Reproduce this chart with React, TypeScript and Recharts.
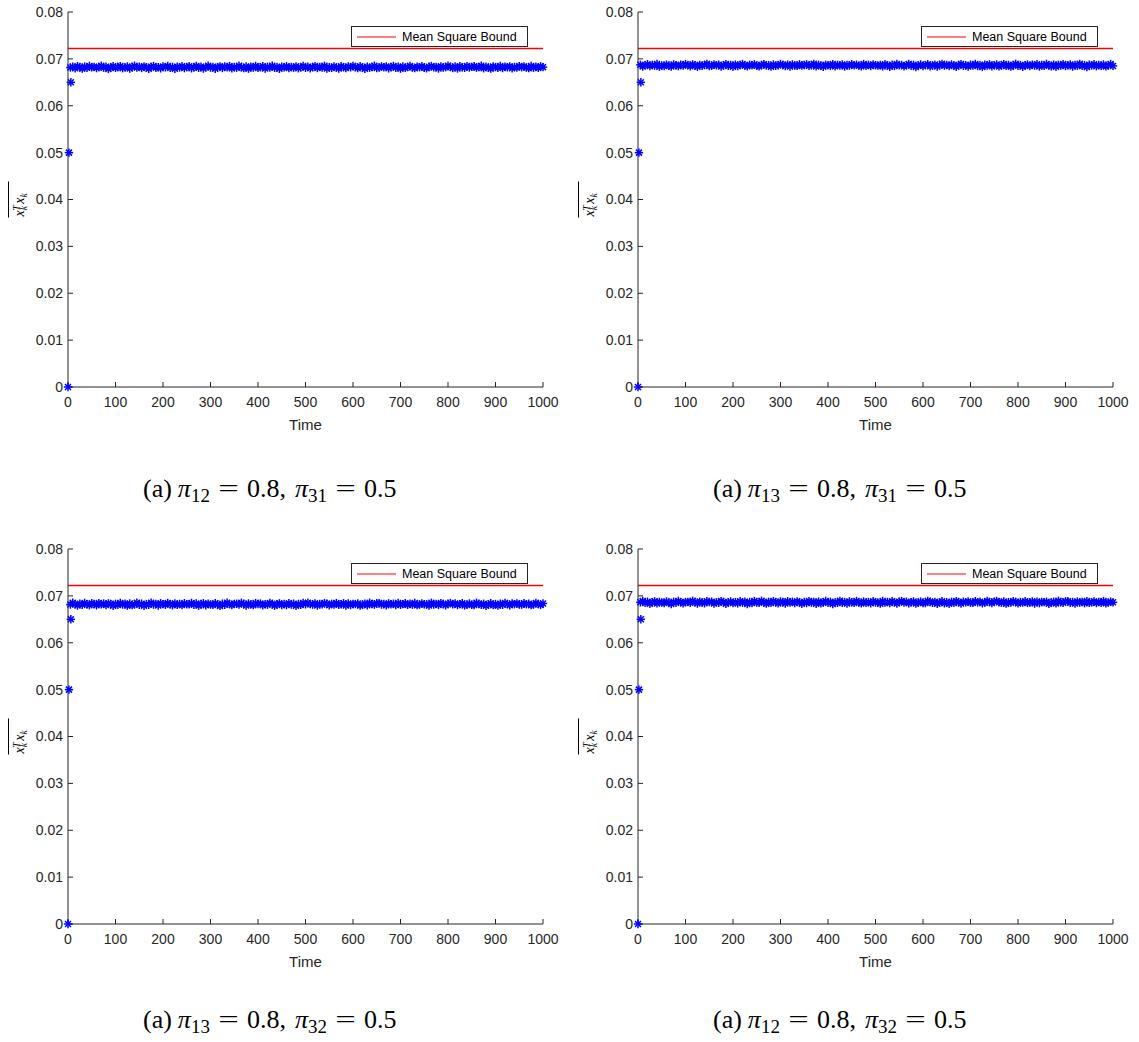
import React from 'react';
import { ComposedChart, Scatter, Line, XAxis, YAxis, Legend } from 'recharts';

const xTicks = [0, 100, 200, 300, 400, 500, 600, 700, 800, 900, 1000];
const yTicks = [0, 0.01, 0.02, 0.03, 0.04, 0.05, 0.06, 0.07, 0.08];
const boundValue = 0.0722;
const initTimes = [0, 2, 6];
const initValues = [0, 0.05, 0.065];
const bandTimes = Array.from({ length: 200 }, (_, i) => 5 + 5 * i);

const bandTL = [
  0.06816, 0.06832, 0.068, 0.06844, 0.06826, 0.06792, 0.06836, 0.0681, 0.0685, 0.06822,
  0.0683, 0.06804, 0.06824, 0.06852, 0.06812, 0.06834, 0.06786, 0.0682, 0.06842, 0.06808,
  0.06828, 0.06846, 0.06802, 0.06818, 0.06838, 0.06796, 0.06826, 0.06854, 0.06814, 0.06832,
  0.06806, 0.0684, 0.06822, 0.0679, 0.0683, 0.06848, 0.06812, 0.06824, 0.06798, 0.06836,
  0.0682, 0.0685, 0.06808, 0.06828, 0.06788, 0.06834, 0.06816, 0.06844, 0.06804, 0.06826,
  0.06842, 0.068, 0.06822, 0.06848, 0.0681, 0.06832, 0.06794, 0.06824, 0.06854, 0.06814,
  0.0683, 0.0679, 0.06826, 0.0684, 0.06806, 0.06836, 0.06818, 0.06846, 0.06798, 0.06828,
  0.06812, 0.06852, 0.0682, 0.06802, 0.06838, 0.06792, 0.06832, 0.06816, 0.06848, 0.06808,
  0.06824, 0.06842, 0.06796, 0.0683, 0.06814, 0.06854, 0.0681, 0.06826, 0.06788, 0.06834,
  0.06818, 0.06844, 0.06804, 0.06828, 0.06812, 0.0684, 0.068, 0.06822, 0.0685, 0.0681,
  0.06834, 0.06798, 0.06826, 0.06846, 0.06806, 0.0683, 0.06816, 0.06852, 0.06794, 0.06822,
  0.06808, 0.06838, 0.06814, 0.06796, 0.06842, 0.06824, 0.06804, 0.06836, 0.0682, 0.06848,
  0.06826, 0.06802, 0.06844, 0.06818, 0.0679, 0.06832, 0.06812, 0.06828, 0.06854, 0.06806,
  0.06814, 0.0684, 0.06822, 0.06836, 0.06798, 0.06826, 0.06848, 0.0681, 0.06832, 0.06792,
  0.06838, 0.06808, 0.06828, 0.0685, 0.06816, 0.06802, 0.06834, 0.06822, 0.06844, 0.06812,
  0.068, 0.06832, 0.06846, 0.06818, 0.06826, 0.06794, 0.0684, 0.06814, 0.06824, 0.06852,
  0.06828, 0.06806, 0.06838, 0.06796, 0.06842, 0.0682, 0.0681, 0.06846, 0.06816, 0.0683,
  0.06844, 0.06812, 0.06824, 0.06854, 0.068, 0.06834, 0.06818, 0.06792, 0.06836, 0.06826,
  0.0681, 0.06848, 0.06804, 0.06832, 0.0682, 0.0684, 0.06798, 0.06828, 0.06814, 0.06846,
  0.06822, 0.06836, 0.06816, 0.06802, 0.0685, 0.06812, 0.06832, 0.06808, 0.06842, 0.06824,
];

const bandTR = [
  0.06874, 0.06838, 0.06866, 0.06886, 0.06846, 0.0687, 0.06856, 0.06892, 0.06834, 0.06862,
  0.06848, 0.06878, 0.06854, 0.06836, 0.06882, 0.06864, 0.06844, 0.06876, 0.0686, 0.06888,
  0.06866, 0.06842, 0.06884, 0.06858, 0.0683, 0.06872, 0.06852, 0.06868, 0.06894, 0.06846,
  0.06854, 0.0688, 0.06862, 0.06876, 0.06838, 0.06866, 0.06888, 0.0685, 0.06872, 0.06832,
  0.06878, 0.06848, 0.06868, 0.0689, 0.06856, 0.06842, 0.06874, 0.06862, 0.06884, 0.06852,
  0.0684, 0.06872, 0.06886, 0.06858, 0.06866, 0.06834, 0.0688, 0.06854, 0.06864, 0.06892,
  0.06868, 0.06846, 0.06878, 0.06836, 0.06882, 0.0686, 0.0685, 0.06886, 0.06856, 0.0687,
  0.06884, 0.06852, 0.06864, 0.06894, 0.0684, 0.06874, 0.06858, 0.06832, 0.06876, 0.06866,
  0.0685, 0.06888, 0.06844, 0.06872, 0.0686, 0.0688, 0.06838, 0.06868, 0.06854, 0.06886,
  0.06862, 0.06876, 0.06856, 0.06842, 0.0689, 0.06852, 0.06872, 0.06848, 0.06882, 0.06864,
  0.06856, 0.06872, 0.0684, 0.06884, 0.06866, 0.06832, 0.06876, 0.0685, 0.0689, 0.06862,
  0.0687, 0.06844, 0.06864, 0.06892, 0.06852, 0.06874, 0.06826, 0.0686, 0.06882, 0.06848,
  0.06868, 0.06886, 0.06842, 0.06858, 0.06878, 0.06836, 0.06866, 0.06894, 0.06854, 0.06872,
  0.06846, 0.0688, 0.06862, 0.0683, 0.0687, 0.06888, 0.06852, 0.06864, 0.06838, 0.06876,
  0.0686, 0.0689, 0.06848, 0.06868, 0.06828, 0.06874, 0.06856, 0.06884, 0.06844, 0.06866,
  0.06882, 0.0684, 0.06862, 0.06888, 0.0685, 0.06872, 0.06834, 0.06864, 0.06894, 0.06854,
  0.0687, 0.0683, 0.06866, 0.0688, 0.06846, 0.06876, 0.06858, 0.06886, 0.06838, 0.06868,
  0.06852, 0.06892, 0.0686, 0.06842, 0.06878, 0.06832, 0.06872, 0.06856, 0.06888, 0.06848,
  0.06864, 0.06882, 0.06836, 0.0687, 0.06854, 0.06894, 0.0685, 0.06866, 0.06828, 0.06874,
  0.06858, 0.06884, 0.06844, 0.06868, 0.06852, 0.0688, 0.0684, 0.06862, 0.0689, 0.0685,
];

const bandBL = [
  0.06814, 0.06854, 0.06824, 0.06794, 0.06832, 0.0681, 0.06848, 0.06822, 0.068, 0.06842,
  0.06828, 0.06798, 0.06846, 0.06818, 0.06836, 0.06806, 0.0684, 0.06826, 0.0679, 0.0683,
  0.06808, 0.06848, 0.06816, 0.06832, 0.06792, 0.06838, 0.06802, 0.0682, 0.06852, 0.06812,
  0.06834, 0.06788, 0.06826, 0.0681, 0.06854, 0.06814, 0.0683, 0.06796, 0.06842, 0.06824,
  0.0681, 0.0685, 0.06822, 0.068, 0.0684, 0.06812, 0.06828, 0.06804, 0.06844, 0.06818,
  0.06822, 0.0685, 0.0681, 0.06836, 0.06792, 0.06826, 0.06844, 0.068, 0.06832, 0.06816,
  0.06808, 0.06842, 0.0682, 0.06786, 0.06834, 0.06812, 0.06852, 0.06824, 0.06804, 0.0683,
  0.06832, 0.06814, 0.06854, 0.06826, 0.06796, 0.06838, 0.06818, 0.06802, 0.06846, 0.06828,
  0.06836, 0.06798, 0.06824, 0.06812, 0.06848, 0.0683, 0.0679, 0.06822, 0.0684, 0.06806,
  0.06826, 0.06804, 0.06844, 0.06816, 0.06834, 0.06788, 0.06828, 0.06808, 0.0685, 0.0682,
  0.06852, 0.06824, 0.06814, 0.0684, 0.06794, 0.06826, 0.06818, 0.06846, 0.06832, 0.068,
  0.0683, 0.06816, 0.06846, 0.0681, 0.0682, 0.06842, 0.06796, 0.06838, 0.06806, 0.06828,
  0.06826, 0.06836, 0.06792, 0.06818, 0.06834, 0.068, 0.06854, 0.06824, 0.06812, 0.06844,
  0.06846, 0.06814, 0.06828, 0.06798, 0.0684, 0.0682, 0.06832, 0.06804, 0.06848, 0.0681,
  0.06824, 0.06842, 0.06808, 0.06832, 0.06812, 0.0685, 0.06802, 0.06816, 0.06836, 0.06822,
  0.06822, 0.06794, 0.06852, 0.06816, 0.0683, 0.06806, 0.06846, 0.06826, 0.06798, 0.06834,
  0.06848, 0.0682, 0.06836, 0.06804, 0.06824, 0.06842, 0.06796, 0.06814, 0.06838, 0.06808,
  0.06806, 0.06854, 0.06828, 0.06812, 0.06832, 0.0679, 0.06818, 0.06844, 0.06802, 0.06826,
  0.06792, 0.06832, 0.0681, 0.06848, 0.06826, 0.06798, 0.06836, 0.06822, 0.0684, 0.06814,
  0.06812, 0.06844, 0.06822, 0.06834, 0.06802, 0.06816, 0.0685, 0.06828, 0.06808, 0.06838,
];

const bandBR = [
  0.06862, 0.0689, 0.0685, 0.06876, 0.06832, 0.06866, 0.06884, 0.0684, 0.06872, 0.06856,
  0.06848, 0.06882, 0.0686, 0.06826, 0.06874, 0.06852, 0.06892, 0.06864, 0.06844, 0.0687,
  0.06872, 0.06854, 0.06894, 0.06866, 0.06836, 0.06878, 0.06858, 0.06842, 0.06886, 0.06868,
  0.06876, 0.06838, 0.06864, 0.06852, 0.06888, 0.0687, 0.0683, 0.06862, 0.0688, 0.06846,
  0.06866, 0.06844, 0.06884, 0.06856, 0.06874, 0.06828, 0.06868, 0.06848, 0.0689, 0.0686,
  0.06854, 0.06894, 0.06864, 0.06834, 0.06872, 0.0685, 0.06888, 0.06862, 0.0684, 0.06882,
  0.06868, 0.06838, 0.06886, 0.06858, 0.06876, 0.06846, 0.0688, 0.06866, 0.0683, 0.0687,
  0.06848, 0.06888, 0.06856, 0.06872, 0.06832, 0.06878, 0.06842, 0.0686, 0.06892, 0.06852,
  0.06874, 0.06828, 0.06866, 0.0685, 0.06894, 0.06854, 0.0687, 0.06836, 0.06882, 0.06864,
  0.0685, 0.0689, 0.06862, 0.0684, 0.0688, 0.06852, 0.06868, 0.06844, 0.06884, 0.06858,
  0.06862, 0.06834, 0.06892, 0.06856, 0.0687, 0.06846, 0.06886, 0.06866, 0.06838, 0.06874,
  0.06888, 0.0686, 0.06876, 0.06844, 0.06864, 0.06882, 0.06836, 0.06854, 0.06878, 0.06848,
  0.06846, 0.06894, 0.06868, 0.06852, 0.06872, 0.0683, 0.06858, 0.06884, 0.06842, 0.06866,
  0.06832, 0.06872, 0.0685, 0.06888, 0.06866, 0.06838, 0.06876, 0.06862, 0.0688, 0.06854,
  0.06852, 0.06884, 0.06862, 0.06874, 0.06842, 0.06856, 0.0689, 0.06868, 0.06848, 0.06878,
  0.06892, 0.06864, 0.06854, 0.0688, 0.06834, 0.06866, 0.06858, 0.06886, 0.06872, 0.0684,
  0.0687, 0.06856, 0.06886, 0.0685, 0.0686, 0.06882, 0.06836, 0.06878, 0.06846, 0.06868,
  0.06866, 0.06876, 0.06832, 0.06858, 0.06874, 0.0684, 0.06894, 0.06864, 0.06852, 0.06884,
  0.06886, 0.06854, 0.06868, 0.06838, 0.0688, 0.0686, 0.06872, 0.06844, 0.06888, 0.0685,
  0.06864, 0.06882, 0.06848, 0.06872, 0.06852, 0.0689, 0.06842, 0.06856, 0.06876, 0.06862,
];

const captionFirst = ['12', '13', '13', '12'];
const captionSecond = ['31', '31', '32', '32'];
const seriesName = 'Mean Square Bound';

const AXIS = '#262626';
const BOUND = '#ff0000';
const SANS = '"Liberation Sans", Arial, Helvetica, sans-serif';
const SERIF = '"Liberation Serif", "Times New Roman", serif';

const Asterisk = (props: any) => {
  const { cx, cy } = props;
  if (cx == null || cy == null) return null;
  const r = 4.2;
  const d = 3;
  return (
    <g stroke="#0000ff" strokeWidth={1.5} fill="none">
      <line x1={cx - r} y1={cy} x2={cx + r} y2={cy} />
      <line x1={cx} y1={cy - r} x2={cx} y2={cy + r} />
      <line x1={cx - d} y1={cy - d} x2={cx + d} y2={cy + d} />
      <line x1={cx - d} y1={cy + d} x2={cx + d} y2={cy - d} />
    </g>
  );
};

const YLabel = (props: any) => {
  const vb = props.viewBox || { x: 8, y: 12, width: 60, height: 375 };
  const cx = 24;
  const cy = vb.y + vb.height / 2;
  return (
    <g transform={`translate(${cx},${cy}) rotate(-90)`}>
      <line x1={-18} y1={-15.5} x2={18} y2={-15.5} stroke="#000" strokeWidth={1} />
      <text x={-17} y={0} fontFamily={SERIF} fontStyle="italic" fontSize={14} fill="#000">
        <tspan>x</tspan>
        <tspan fontSize={9.5} dy={3}>k</tspan>
        <tspan fontSize={9.5} dx={-4.5} dy={-7.5}>T</tspan>
        <tspan dx={1.5} dy={4.5}>x</tspan>
        <tspan fontSize={9.5} dy={3}>k</tspan>
      </text>
    </g>
  );
};

const LegendBox = (props: any) => {
  const items = (props.payload || []).filter((p: any) => p.type !== 'none');
  return (
    <div
      style={{
        boxSizing: 'border-box',
        width: 177,
        height: 21,
        border: `1px solid ${AXIS}`,
        background: '#fff',
        display: 'flex',
        alignItems: 'center',
        fontFamily: SANS,
        fontSize: 12.5,
        color: '#000',
      }}
    >
      {items.map((it: any, i: number) => (
        <React.Fragment key={i}>
          <svg width={50} height={10} style={{ display: 'block' }}>
            <line x1={5} x2={44} y1={5} y2={5} stroke={BOUND} strokeWidth={1.2} />
          </svg>
          <span>{it.value}</span>
        </React.Fragment>
      ))}
    </div>
  );
};

const subStyle: React.CSSProperties = { fontSize: 19, lineHeight: 0, verticalAlign: '-5px' };
const eqStyle: React.CSSProperties = {
  display: 'inline-block',
  width: 21,
  textAlign: 'center',
  transform: 'scaleX(1.4)',
  margin: '0 8px',
};

function Panel({ id, left, top, band, capA, capB, capTop }: any) {
  const scatterData = [
    ...initTimes.map((t, i) => ({ t, v: initValues[i] })),
    ...bandTimes.map((t, i) => ({ t, v: band[i] })),
  ];
  const boundData = [
    { t: 0, v: boundValue },
    { t: 1000, v: boundValue },
  ];
  const tickStyle = { fill: AXIS, fontSize: 14, fontFamily: SANS };
  return (
    <>
      <div style={{ position: 'absolute', left, top }}>
        <ComposedChart id={id} width={570} height={440} margin={{ top: 12, left: 8, right: 27, bottom: 23 }}>
          <XAxis
            xAxisId="b"
            dataKey="t"
            type="number"
            domain={[0, 1000]}
            ticks={xTicks}
            interval={0}
            height={30}
            tickSize={-5}
            tickMargin={15}
            stroke={AXIS}
            tick={tickStyle}
            label={{ value: 'Time', position: 'bottom', offset: 2, fill: AXIS, fontSize: 15, fontFamily: SANS }}
          />
          <XAxis
            xAxisId="top"
            orientation="top"
            type="number"
            domain={[0, 1000]}
            ticks={xTicks}
            interval={0}
            height={0}
            tickSize={-5}
            tick={false}
            stroke={AXIS}
          />
          <YAxis
            yAxisId="l"
            dataKey="v"
            type="number"
            domain={[0, 0.08]}
            ticks={yTicks}
            interval={0}
            width={60}
            tickSize={-5}
            tickMargin={10}
            stroke={AXIS}
            tick={tickStyle}
            label={{ content: (p: any) => <YLabel {...p} /> }}
          />
          <YAxis
            yAxisId="right"
            orientation="right"
            type="number"
            domain={[0, 0.08]}
            ticks={yTicks}
            interval={0}
            width={0}
            tickSize={-5}
            tick={false}
            stroke={AXIS}
          />
          <Legend
            layout="vertical"
            align="center"
            verticalAlign="middle"
            wrapperStyle={{ left: 351, top: 26, width: 177 }}
            content={<LegendBox />}
          />
          <Scatter
            xAxisId="b"
            yAxisId="l"
            data={scatterData}
            dataKey="v"
            fill="#0000ff"
            shape={Asterisk}
            legendType="none"
            isAnimationActive={false}
          />
          <Line
            xAxisId="b"
            yAxisId="l"
            data={boundData}
            dataKey="v"
            name={seriesName}
            stroke={BOUND}
            strokeWidth={1.4}
            dot={false}
            activeDot={false}
            isAnimationActive={false}
          />
        </ComposedChart>
      </div>
      <div
        style={{
          position: 'absolute',
          left: left + 143,
          top: capTop,
          fontFamily: SERIF,
          fontSize: 26,
          lineHeight: '26px',
          whiteSpace: 'nowrap',
          color: '#000',
        }}
      >
        <span>(a)</span>
        <i style={{ marginLeft: 6 }}>π</i>
        <sub style={subStyle}>{capA}</sub>
        <span style={eqStyle}>=</span>
        <span>0.8,</span>
        <i style={{ marginLeft: 9 }}>π</i>
        <sub style={subStyle}>{capB}</sub>
        <span style={eqStyle}>=</span>
        <span>0.5</span>
      </div>
    </>
  );
}

export default function App() {
  return (
    <div style={{ position: 'absolute', left: 0, top: 0, width: 1139, height: 1042, background: '#fff', overflow: 'hidden' }}>
      <Panel id="panel-tl" left={0} top={0} band={bandTL} capA={captionFirst[0]} capB={captionSecond[0]} capTop={476} />
      <Panel id="panel-tr" left={570} top={0} band={bandTR} capA={captionFirst[1]} capB={captionSecond[1]} capTop={476} />
      <Panel id="panel-bl" left={0} top={537} band={bandBL} capA={captionFirst[2]} capB={captionSecond[2]} capTop={1007} />
      <Panel id="panel-br" left={570} top={537} band={bandBR} capA={captionFirst[3]} capB={captionSecond[3]} capTop={1007} />
    </div>
  );
}
